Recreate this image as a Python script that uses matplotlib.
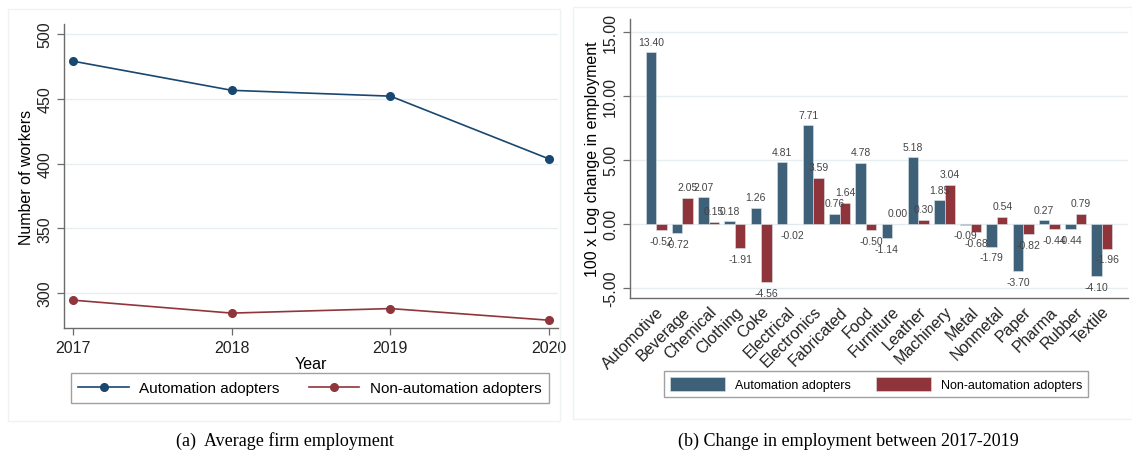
import numpy as np
import matplotlib.pyplot as plt
from matplotlib.patches import Rectangle

# panel (a): average firm employment by year
years = [2017, 2018, 2019, 2020]
adopters_emp = [479.0, 456.5, 452.0, 403.5]
non_adopters_emp = [294.5, 284.5, 288.0, 279.0]

# panel (b): 100 x log change in employment, 2017-2019, by industry
industries = ['Automotive', 'Beverage', 'Chemical', 'Clothing', 'Coke', 'Electrical',
              'Electronics', 'Fabricated', 'Food', 'Furniture', 'Leather', 'Machinery',
              'Metal', 'Nonmetal', 'Paper', 'Pharma', 'Rubber', 'Textile']
adopters_chg = [13.40, -0.72, 2.07, 0.18, 1.26, 4.81, 7.71, 0.76, 4.78, -1.14,
                5.18, 1.85, -0.09, -1.79, -3.70, 0.27, -0.44, -4.10]
non_adopters_chg = [-0.52, 2.05, 0.15, -1.91, -4.56, -0.02, 3.59, 1.64, -0.50, 0.00,
                    0.30, 3.04, -0.68, 0.54, -0.82, -0.44, 0.79, -1.96]

line_blue = '#1a476f'
line_red = '#90353b'
bar_blue = '#3e6079'
bar_red = '#8f343b'
grid_col = '#e6eef1'
spine_col = '#6b6b6b'

plt.rcParams['font.family'] = ['Liberation Sans', 'DejaVu Sans']

fig = plt.figure(figsize=(11.32, 4.56), dpi=100)

# faint panel frames
for x0, x1, y0, y1 in [(8, 560, 10, 422), (573, 1132, 8, 420)]:
    fig.patches.append(Rectangle((x0 / 1132, 1 - y1 / 456), (x1 - x0) / 1132, (y1 - y0) / 456,
                                 transform=fig.transFigure, fill=False,
                                 edgecolor='#eef2f4', linewidth=1))


def style_axes(ax):
    for s in ['top', 'right']:
        ax.spines[s].set_visible(False)
    for s in ['left', 'bottom']:
        ax.spines[s].set_color(spine_col)
        ax.spines[s].set_linewidth(1.0)
    ax.tick_params(colors=spine_col, labelcolor='#222222', length=5, width=0.9)
    ax.yaxis.grid(True, color=grid_col, linewidth=1.0)
    ax.set_axisbelow(True)


# ---- panel (a)
ax1 = fig.add_axes([64 / 1132, 1 - 329 / 456, (558 - 64) / 1132, (329 - 25) / 456])
style_axes(ax1)
ax1.plot(years, adopters_emp, color=line_blue, marker='o', markersize=5.5, linewidth=1.2,
         label='Automation adopters')
ax1.plot(years, non_adopters_emp, color=line_red, marker='o', markersize=5.5, linewidth=1.2,
         label='Non-automation adopters')
ax1.set_xlim(2016.943, 2020.056)
ax1.set_ylim(273, 507.7)
ax1.set_xticks(years)
ax1.set_yticks([300, 350, 400, 450, 500])
ax1.tick_params(axis='both', labelsize=11.5)
for lab in ax1.get_yticklabels():
    lab.set_rotation(90)
    lab.set_va('center')
ax1.set_xlabel('Year', fontsize=11.5, labelpad=1)
ax1.set_ylabel('Number of workers', fontsize=11.5, labelpad=2)
leg1 = ax1.legend(loc='center', bbox_to_anchor=(310 / 1132, 1 - 389 / 456),
                  bbox_transform=fig.transFigure, ncol=2, fontsize=11,
                  handlelength=3.3, handletextpad=0.7, columnspacing=1.9, fancybox=False,
                  edgecolor='#888888', borderpad=0.5)
leg1.get_frame().set_linewidth(1.0)

# ---- panel (b)
ax2 = fig.add_axes([630 / 1132, 1 - 299 / 456, (1128 - 630) / 1132, (299 - 20) / 456])
style_axes(ax2)
x = np.arange(len(industries))
w = 0.4
ax2.bar(x - w / 2, adopters_chg, w, color=bar_blue, label='Automation adopters',
        edgecolor='#dde6ea', linewidth=0.4)
ax2.bar(x + w / 2, non_adopters_chg, w, color=bar_red, label='Non-automation adopters',
        edgecolor='#dde6ea', linewidth=0.4)
for xs, vals in [(x - w / 2, adopters_chg), (x + w / 2, non_adopters_chg)]:
    for xi, v in zip(xs, vals):
        ax2.annotate(f'{v:.2f}', (xi, v), xytext=(0, 4 if v >= 0 else -4),
                     textcoords='offset points', ha='center',
                     va='bottom' if v >= 0 else 'top', fontsize=7.5, color='#444444')
ax2.set_xlim(-1, 18)
ax2.set_ylim(-5.8, 16.0)
ax2.set_yticks([-5, 0, 5, 10, 15])
ax2.set_yticklabels([f'{t:.2f}' for t in [-5, 0, 5, 10, 15]], rotation=90, va='center',
                    fontsize=11.5)
ax2.set_xticks(x)
ax2.set_xticklabels(industries, rotation=45, ha='right', rotation_mode='anchor', fontsize=11.5)
ax2.tick_params(axis='x', length=0, pad=4)
ax2.set_ylabel('100 x Log change in employment', fontsize=11.5, labelpad=2)
leg2 = ax2.legend(loc='center', bbox_to_anchor=(876 / 1132, 1 - 385 / 456),
                  bbox_transform=fig.transFigure, ncol=2, fontsize=9,
                  handlelength=4.4, handleheight=1.4, columnspacing=2.0, fancybox=False,
                  edgecolor='#888888', borderpad=0.45)
leg2.get_frame().set_linewidth(1.0)

# captions
fig.text(285 / 1132, 1 - 441 / 456, '(a)  Average firm employment', ha='center', va='center',
         fontsize=13, family=['Liberation Serif', 'DejaVu Serif'])
fig.text(848 / 1132, 1 - 441 / 456, '(b) Change in employment between 2017-2019', ha='center',
         va='center', fontsize=13, family=['Liberation Serif', 'DejaVu Serif'])

fig.savefig('out.png', dpi=100)
